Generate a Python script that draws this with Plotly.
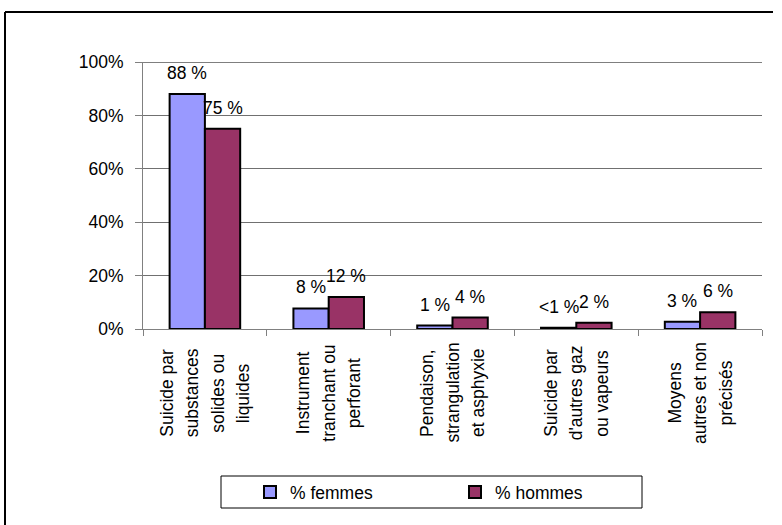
import plotly.graph_objects as go

categories = [
    "Suicide par<br>substances<br>solides ou<br>liquides",
    "Instrument<br>tranchant ou<br>perforant",
    "Pendaison,<br>strangulation<br>et asphyxie",
    "Suicide par<br>d'autres gaz<br>ou vapeurs",
    "Moyens<br>autres et non<br>précisés",
]
cat_keys = ["c1", "c2", "c3", "c4", "c5"]
femmes = [88, 7.7, 1.3, 0.5, 2.7]
hommes = [75, 12, 4.3, 2.3, 6.3]
femmes_labels = ["88 %", "8 %", "1 %", "<1 %", "3 %"]
hommes_labels = ["75 %", "12 %", "4 %", "2 %", "6 %"]
yticks = [0, 20, 40, 60, 80, 100]
ytick_labels = ["0%", "20%", "40%", "60%", "80%", "100%"]

FONT = "Liberation Sans, Arial, sans-serif"
FS = 17.5

W, H = 782, 525
L, R, T, B = 143, 20, 62, 196
PW, PH = W - L - R, H - T - B


def px_x(x):
    return (x - L) / PW


def px_y(y):
    return 1 - (y - T) / PH


fig = go.Figure()
fig.add_trace(go.Bar(
    x=cat_keys, y=femmes, name="% femmes",
    marker=dict(color="#9999FF", line=dict(color="black", width=2)),
))
fig.add_trace(go.Bar(
    x=cat_keys, y=hommes, name="% hommes",
    marker=dict(color="#993366", line=dict(color="black", width=2)),
))

bargap = 0.43
cat_px = PW / len(cat_keys)
bar_px = cat_px * (1 - bargap) / 2

annotations = []
for k, v, t in zip(cat_keys, femmes, femmes_labels):
    annotations.append(dict(x=k, y=v, xref="x", yref="y", text=t, showarrow=False,
                            xshift=-bar_px / 2, yshift=21, yanchor="middle",
                            font=dict(family=FONT, size=FS, color="black")))
for k, v, t in zip(cat_keys, hommes, hommes_labels):
    annotations.append(dict(x=k, y=v, xref="x", yref="y", text=t, showarrow=False,
                            xshift=bar_px / 2, yshift=21, yanchor="middle",
                            font=dict(family=FONT, size=FS, color="black")))

line_gap = 25.5
for k, lab in zip(cat_keys, categories):
    lines = lab.split("<br>")
    n = len(lines)
    for j, ln in enumerate(lines):
        annotations.append(dict(x=k, y=px_y(393), xref="x", yref="paper", text=ln,
                                showarrow=False, textangle=-90,
                                xshift=(j - (n - 1) / 2) * line_gap,
                                xanchor="center", yanchor="middle",
                                font=dict(family=FONT, size=FS, color="black")))

shapes = [
    dict(type="line", xref="paper", yref="paper", x0=px_x(5), x1=px_x(773),
         y0=px_y(12), y1=px_y(12), line=dict(color="black", width=2)),
    dict(type="line", xref="paper", yref="paper", x0=px_x(5), x1=px_x(5),
         y0=px_y(12), y1=px_y(530), line=dict(color="black", width=2)),
    dict(type="line", xref="paper", yref="y", x0=0, x1=1, y0=100, y1=100,
         line=dict(color="black", width=1)),
    dict(type="rect", xref="paper", yref="paper", x0=px_x(221), x1=px_x(642),
         y0=px_y(476), y1=px_y(508), line=dict(color="black", width=1),
         fillcolor="rgba(0,0,0,0)"),
]

fig.update_layout(
    width=W, height=H,
    margin=dict(l=L, r=R, t=T, b=B),
    paper_bgcolor="white", plot_bgcolor="white",
    barmode="group", bargap=bargap, bargroupgap=0,
    font=dict(family=FONT, size=FS, color="black"),
    showlegend=True,
    legend=dict(orientation="h", x=px_x(250), y=px_y(492), xanchor="left",
                yanchor="middle", entrywidth=160, entrywidthmode="pixels",
                bgcolor="rgba(0,0,0,0)", borderwidth=0,
                font=dict(family=FONT, size=FS, color="black"),
                itemwidth=30, traceorder="normal"),
    annotations=annotations,
    shapes=shapes,
    xaxis=dict(type="category", showticklabels=False, ticks="outside",
               tickson="boundaries", ticklen=6, tickcolor="#808080",
               showline=True, linecolor="#808080", linewidth=1,
               showgrid=False, zeroline=False, fixedrange=True),
    yaxis=dict(range=[0, 100], tickmode="array", tickvals=yticks,
               ticktext=ytick_labels,
               ticks="outside", ticklen=7, tickcolor="#808080",
               ticklabelstandoff=8,
               showline=True, linecolor="#808080", linewidth=1,
               showgrid=True, gridcolor="#707070", gridwidth=1,
               zeroline=False, fixedrange=True,
               tickfont=dict(family=FONT, size=FS, color="black")),
)

fig.write_html("out.html")
